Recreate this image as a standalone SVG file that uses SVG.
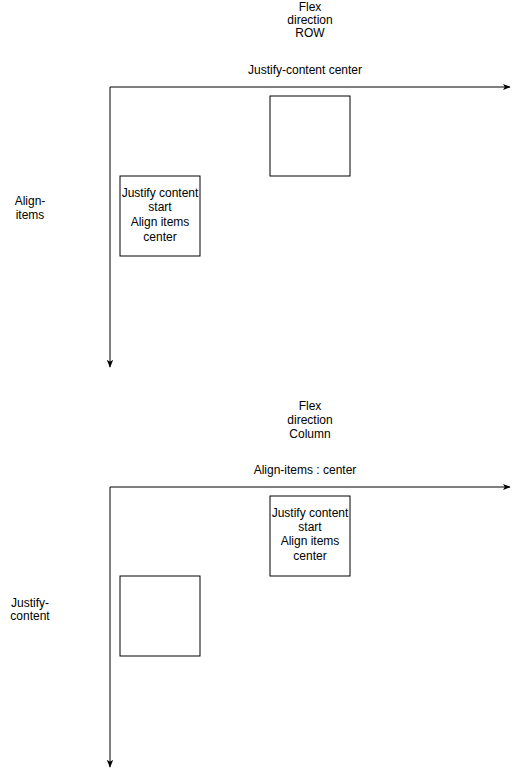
<svg xmlns="http://www.w3.org/2000/svg" width="519" height="775" viewBox="0 0 519 775">
<style>
text{font-family:"Liberation Sans",Arial,sans-serif;font-size:12px;fill:#000;text-anchor:middle}
.box{fill:#fff;stroke:#000;stroke-width:1}
.edge{fill:none;stroke:#000;stroke-width:1}
</style>
<defs>
<marker id="arr" viewBox="0 0 10 10" refX="9" refY="5" markerWidth="8" markerHeight="8" markerUnits="userSpaceOnUse" orient="auto">
<path d="M0,1 L10,5 L0,9 L2.5,5 Z" fill="#000"/>
</marker>
</defs>
<rect width="519" height="775" fill="#fff"/>
<g id="connectors">
<path class="edge" d="M110,87 L510,87" marker-end="url(#arr)"/>
<path class="edge" d="M110,87 L110,367" marker-end="url(#arr)"/>
<path class="edge" d="M110,487 L510,487" marker-end="url(#arr)"/>
<path class="edge" d="M110,487 L110,767" marker-end="url(#arr)"/>
</g>
<g id="title-row"><text x="310" y="11">Flex</text><text x="310" y="24">direction</text><text x="310" y="37">ROW</text></g>
<g id="label-jc-center"><text x="305" y="74">Justify-content center</text></g>
<g id="label-align-items"><text x="30" y="205">Align-</text><text x="30" y="219">items</text></g>
<g id="box1"><rect class="box" x="270" y="96" width="80" height="80"/></g>
<g id="box2"><rect class="box" x="120" y="176" width="80" height="80"/>
<text x="160" y="197">Justify content</text><text x="160" y="211">start</text><text x="160" y="226">Align items</text><text x="160" y="241">center</text></g>
<g id="title-col"><text x="310" y="410">Flex</text><text x="310" y="424">direction</text><text x="310" y="438">Column</text></g>
<g id="label-ai-center"><text x="305" y="474">Align-items : center</text></g>
<g id="label-justify-content"><text x="30" y="607">Justify-</text><text x="30" y="620">content</text></g>
<g id="box3"><rect class="box" x="270" y="496" width="80" height="80"/>
<text x="310" y="517">Justify content</text><text x="310" y="531">start</text><text x="310" y="545">Align items</text><text x="310" y="560">center</text></g>
<g id="box4"><rect class="box" x="120" y="576" width="80" height="80"/></g>
</svg>
